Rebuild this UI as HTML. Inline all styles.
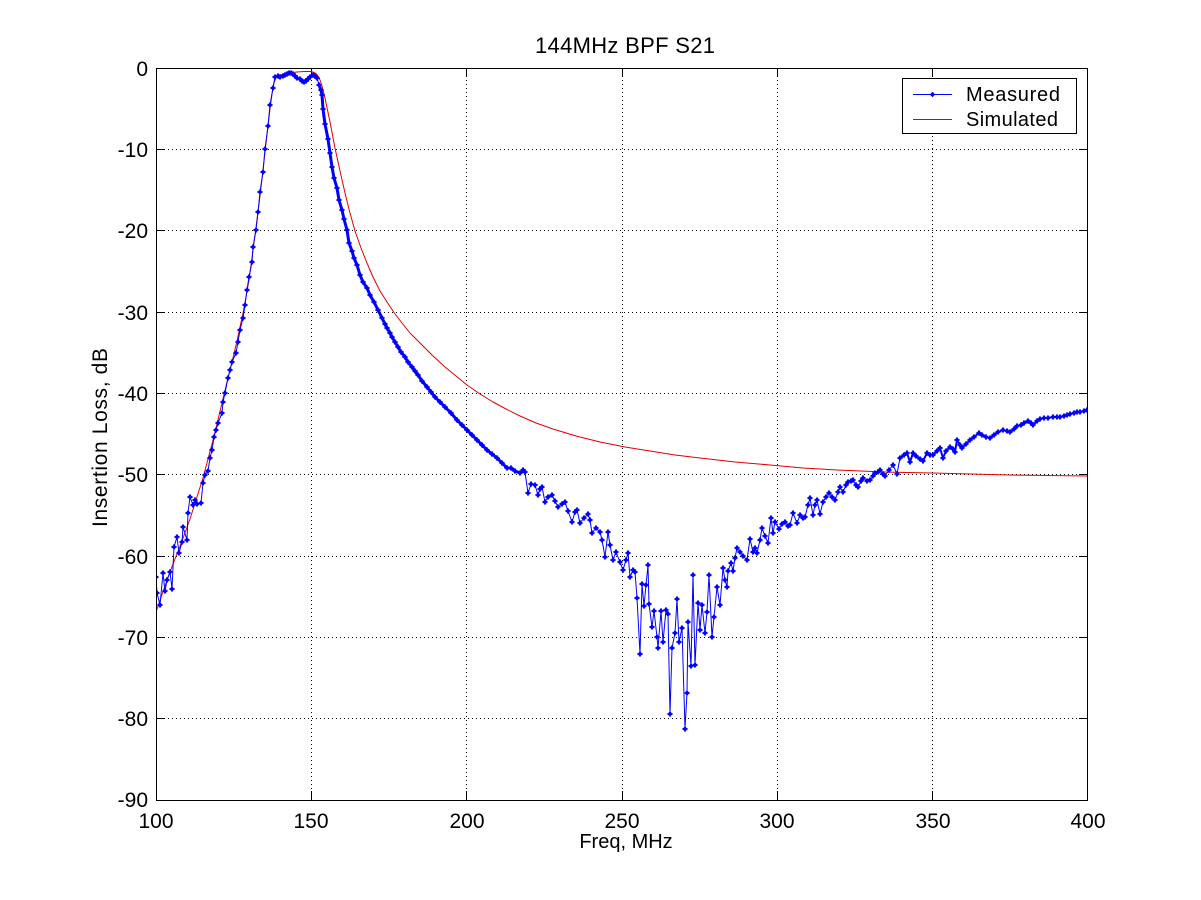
<!DOCTYPE html>
<html>
<head>
<meta charset="utf-8">
<style>
html,body{margin:0;padding:0;background:#fff;}
svg{display:block;}
text{font-family:"Liberation Sans",Arial,sans-serif;fill:#000;}
</style>
</head>
<body>
<svg width="1201" height="900" viewBox="0 0 1201 900" xmlns="http://www.w3.org/2000/svg">
<defs>
<clipPath id="ax"><rect x="156" y="68" width="932" height="733"/></clipPath>
<marker id="dot" markerUnits="userSpaceOnUse" markerWidth="8" markerHeight="8" refX="4" refY="4" overflow="visible">
<path d="M4,1.3 L6.7,4 L4,6.7 L1.3,4 Z" fill="#0000ff"/>
<path d="M1,4 H7 M4,1 V7" stroke="#0000ff" stroke-width="1"/>
</marker>
</defs>
<rect x="0" y="0" width="1201" height="900" fill="#fff"/>

<!-- grid -->
<g stroke="#000" stroke-width="1" stroke-dasharray="1 3" fill="none">
<line x1="311.5" y1="68" x2="311.5" y2="800"/>
<line x1="466.5" y1="68" x2="466.5" y2="800"/>
<line x1="622.5" y1="68" x2="622.5" y2="800"/>
<line x1="777.5" y1="68" x2="777.5" y2="800"/>
<line x1="932.5" y1="68" x2="932.5" y2="800"/>
<line x1="156" y1="149.5" x2="1088" y2="149.5"/>
<line x1="156" y1="230.5" x2="1088" y2="230.5"/>
<line x1="156" y1="312.5" x2="1088" y2="312.5"/>
<line x1="156" y1="393.5" x2="1088" y2="393.5"/>
<line x1="156" y1="474.5" x2="1088" y2="474.5"/>
<line x1="156" y1="556.5" x2="1088" y2="556.5"/>
<line x1="156" y1="637.5" x2="1088" y2="637.5"/>
<line x1="156" y1="718.5" x2="1088" y2="718.5"/>
</g>

<!-- ticks -->
<g stroke="#000" stroke-width="1">
<line x1="311.5" y1="800" x2="311.5" y2="791"/><line x1="311.5" y1="68" x2="311.5" y2="77"/>
<line x1="466.5" y1="800" x2="466.5" y2="791"/><line x1="466.5" y1="68" x2="466.5" y2="77"/>
<line x1="622.5" y1="800" x2="622.5" y2="791"/><line x1="622.5" y1="68" x2="622.5" y2="77"/>
<line x1="777.5" y1="800" x2="777.5" y2="791"/><line x1="777.5" y1="68" x2="777.5" y2="77"/>
<line x1="932.5" y1="800" x2="932.5" y2="791"/><line x1="932.5" y1="68" x2="932.5" y2="77"/>
<line x1="156" y1="149.5" x2="165" y2="149.5"/><line x1="1088" y1="149.5" x2="1079" y2="149.5"/>
<line x1="156" y1="230.5" x2="165" y2="230.5"/><line x1="1088" y1="230.5" x2="1079" y2="230.5"/>
<line x1="156" y1="312.5" x2="165" y2="312.5"/><line x1="1088" y1="312.5" x2="1079" y2="312.5"/>
<line x1="156" y1="393.5" x2="165" y2="393.5"/><line x1="1088" y1="393.5" x2="1079" y2="393.5"/>
<line x1="156" y1="474.5" x2="165" y2="474.5"/><line x1="1088" y1="474.5" x2="1079" y2="474.5"/>
<line x1="156" y1="556.5" x2="165" y2="556.5"/><line x1="1088" y1="556.5" x2="1079" y2="556.5"/>
<line x1="156" y1="637.5" x2="165" y2="637.5"/><line x1="1088" y1="637.5" x2="1079" y2="637.5"/>
<line x1="156" y1="718.5" x2="165" y2="718.5"/><line x1="1088" y1="718.5" x2="1079" y2="718.5"/>
</g>

<g clip-path="url(#ax)">
<!-- Simulated -->
<polyline fill="none" stroke="#e00000" stroke-width="1" stroke-linejoin="round" points="156,612 165,586 173,564 182,541 190,519 197,497 203,478 208,459 212,444 217,424 222,403 227,382 232,362 237,341 243,313 246,297 249,280 252,258 255,235 258,212 260,196 263,170 265,152 268,126 270,109 272,94 274,83 276,77.5 279,75.3 284,74 290,73 297,72 304,71.5 310,71.5 313,72 316,73.5 318,76 320,80 322,86 325,98 330,122 335,148 340,171 345,193 350,213 355,231 361,248 367,263 373,277 380,291 387,302 395,314 402,323 410,333 420,343 432,355 445,367 456,376 467,385 480,394 493,402 506,409 520,416 536,423 553,429 576,436 600,442 625,447 650,451 675,455 700,458 735,462 770,465 803,468 837,470 885,472 932,473 1010,475 1088,476"/>

<!-- Measured underlay (dense-marker regions) -->
<polyline fill="none" stroke="#0000ff" stroke-width="3" stroke-linejoin="round" points="319,85 321,90 322,95 323,109 325,124 328,139 330,153 332,167 334,178 337,188 339,200 342,210 344,219 347,230 349,243 352,251 354,258 357,265 360,275 363,282 367,288 370,295 374,302 378,310 382,318 385,324 387,328 390,333 392,337 395,342 398,347 401,352 405,357 408,362 412,367 415,371 418,375 422,381 427,387 431,392 435,397 440,402 445,407 451,413 457,420 462,425 467,430 472,435 477,440 482,445 487,450 492,454 497,458 502,463 507,468 511,468 515,471 520,473"/>
<polyline fill="none" stroke="#0000ff" stroke-width="2" stroke-linejoin="round" points="900,458 904,455 907,453 910,462 913,453 916,456 920,459 923,461 927,453 930,455 933,455 937,451 940,448 943,458 946,451 950,447 953,449 955,452 957,440 960,445 962,448 966,444 970,440 974,437 979,433 982,435 986,437 990,438 994,435 998,432 1003,430 1007,431 1010,432 1014,429 1017,426 1021,425 1024,423 1028,421 1031,423 1033,425 1037,421 1040,419 1044,418 1048,418 1053,417 1057,417 1060,417 1064,416 1067,415 1070,414 1074,413 1077,412 1080,412 1084,411 1087,410"/>

<!-- Measured -->
<polyline fill="none" stroke="#0000ff" stroke-width="1" marker-start="url(#dot)" marker-mid="url(#dot)" marker-end="url(#dot)" points="156,577 157,593 160,605 163,573 165,591 167,580 170,572 172,589 174,547 177,537 179,553 182,542 183,527 187,540 188,513 190,497 193,505 195,500 197,504 201,503 203,483 205,475 208,471 210,458 212,450 214,437 216,430 218,423 222,413 223,402 225,393 228,378 230,370 232,362 236,353 238,342 240,330 243,318 245,305 247,290 249,277 252,262 253,247 256,230 258,212 260,192 263,172 265,149 268,126 270,105 273,88 275,77 278,76 280,77 283,76 285,75 287,74 289,73 291,73 293,74 295,76 297,78 300,79 302,81 304,82 306,81 308,79 310,77 313,75 315,76 317,78 319,85 321,90 322,95 323,109 325,124 328,139 330,153 332,167 334,178 337,188 339,200 342,210 344,219 347,230 349,243 352,251 354,258 357,265 360,275 363,282 367,288 370,295 374,302 378,310 382,318 385,324 387,328 390,333 392,337 395,342 398,347 401,352 405,357 408,362 412,367 415,371 418,375 422,381 427,387 431,392 435,397 440,402 445,407 451,413 457,420 462,425 467,430 472,435 477,440 482,445 487,450 492,454 497,458 502,463 507,468 511,468 515,471 520,473 523,470 525,472 528,493 531,484 535,485 538,495 540,489 542,487 545,502 548,497 552,495 555,501 558,507 562,504 565,502 568,511 572,522 575,512 577,510 580,523 584,518 588,514 590,520 592,533 596,528 600,532 602,540 605,557 608,532 610,545 613,560 616,552 620,562 623,570 626,560 628,553 630,577 633,570 635,572 637,598 640,654 642,584 644,606 646,585 648,565 649,604 652,627 654,611 657,637 658,648 661,611 663,642 666,610 668,614 670,714 672,648 675,633 677,599 679,642 682,628 685,729 687,693 688,622 691,666 693,575 695,665 698,603 700,630 702,605 705,633 707,612 709,575 712,637 714,617 717,587 720,605 723,568 725,580 727,587 728,571 731,563 733,571 735,558 737,548 740,552 743,556 747,560 750,539 753,552 755,548 757,553 760,540 762,528 765,536 768,543 771,518 773,533 775,522 779,529 782,524 785,522 788,526 790,525 793,513 797,523 800,515 803,518 805,517 808,505 810,498 813,515 815,505 817,500 820,514 823,502 826,497 829,493 832,497 835,500 838,492 840,487 843,492 846,485 848,482 851,481 853,480 856,485 858,487 861,481 863,478 867,481 870,480 873,476 875,473 878,472 880,470 883,474 885,476 889,470 893,465 897,474 900,458 904,455 907,453 910,462 913,453 916,456 920,459 923,461 927,453 930,455 933,455 937,451 940,448 943,458 946,451 950,447 953,449 955,452 957,440 960,445 962,448 966,444 970,440 974,437 979,433 982,435 986,437 990,438 994,435 998,432 1003,430 1007,431 1010,432 1014,429 1017,426 1021,425 1024,423 1028,421 1031,423 1033,425 1037,421 1040,419 1044,418 1048,418 1053,417 1057,417 1060,417 1064,416 1067,415 1070,414 1074,413 1077,412 1080,412 1084,411 1087,410"/>
</g>

<!-- axes box -->
<rect x="156.5" y="68.5" width="931" height="732" fill="none" stroke="#000" stroke-width="1"/>

<!-- y tick labels -->
<g font-size="21" text-anchor="end">
<text x="148" y="76">0</text>
<text x="148" y="157">-10</text>
<text x="148" y="238">-20</text>
<text x="148" y="320">-30</text>
<text x="148" y="401">-40</text>
<text x="148" y="482">-50</text>
<text x="148" y="564">-60</text>
<text x="148" y="645">-70</text>
<text x="148" y="726">-80</text>
<text x="148" y="807">-90</text>
</g>

<!-- x tick labels -->
<g font-size="21" text-anchor="middle">
<text x="156" y="828">100</text>
<text x="311" y="828">150</text>
<text x="467" y="828">200</text>
<text x="622" y="828">250</text>
<text x="777" y="828">300</text>
<text x="933" y="828">350</text>
<text x="1088" y="828">400</text>
</g>

<!-- title and axis labels -->
<text x="535" y="53" font-size="22" textLength="180" lengthAdjust="spacing">144MHz BPF S21</text>
<text x="626" y="848" font-size="20" text-anchor="middle">Freq, MHz</text>
<text transform="translate(107,527) rotate(-90)" font-size="21" textLength="179" lengthAdjust="spacing">Insertion Loss, dB</text>

<!-- legend -->
<rect x="902.5" y="78.5" width="174" height="55" fill="#fff" stroke="#000" stroke-width="1"/>
<line x1="913" y1="94.5" x2="952" y2="94.5" stroke="#0000ff" stroke-width="1"/>
<path d="M932.5,91.8 L935.2,94.5 L932.5,97.2 L929.8,94.5 Z" fill="#0000ff"/>
<line x1="913" y1="119.5" x2="952" y2="119.5" stroke="#e00000" stroke-width="1"/>
<text x="966" y="101" font-size="20" textLength="94" lengthAdjust="spacing">Measured</text>
<text x="966" y="126" font-size="20" textLength="92" lengthAdjust="spacing">Simulated</text>
</svg>
</body>
</html>
